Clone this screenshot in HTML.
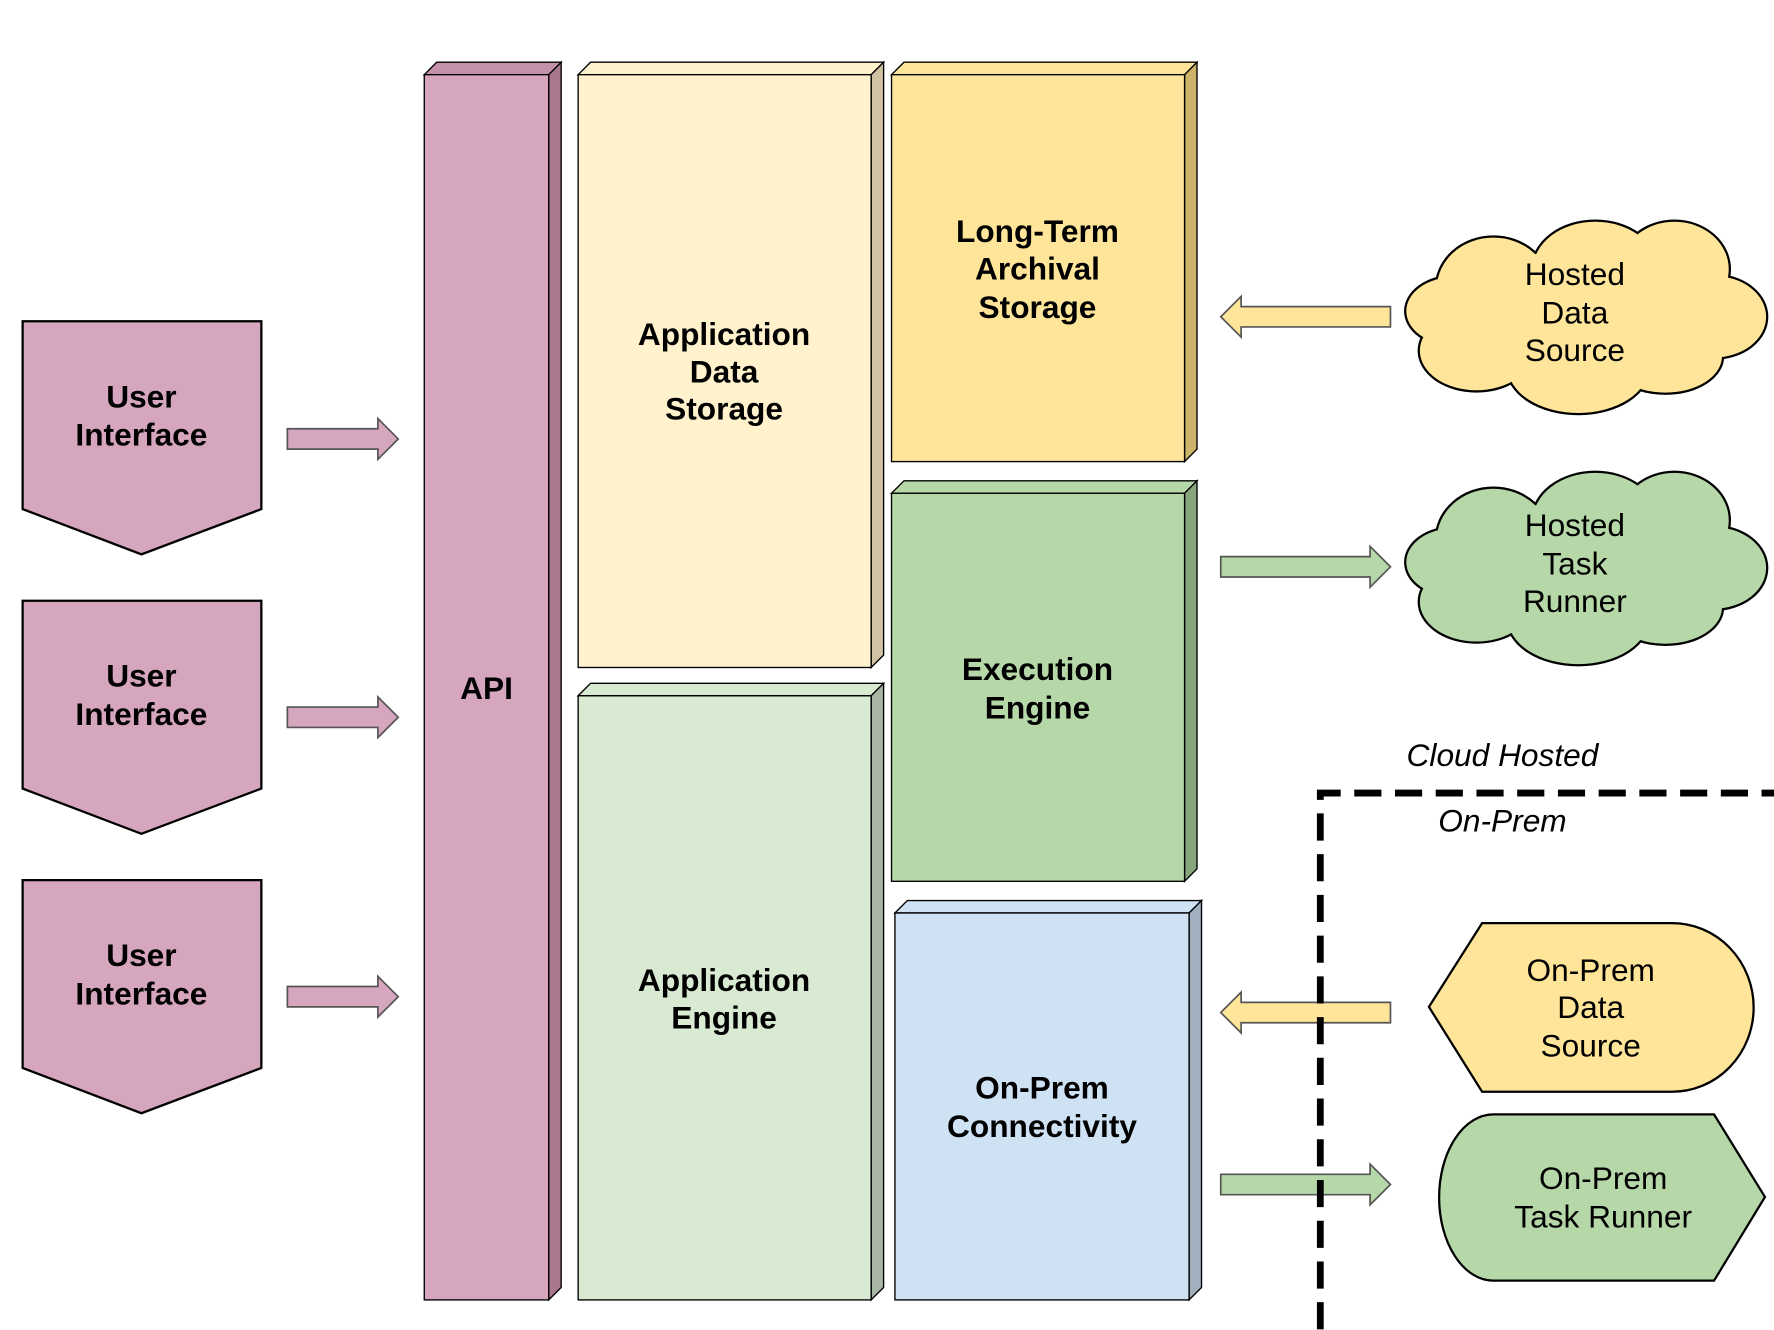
<!DOCTYPE html>
<html><head><meta charset="utf-8"><style>
html,body{margin:0;padding:0;background:#fff;}
svg{display:block;}
text{font-family:"Liberation Sans",Arial,sans-serif;font-size:28px;text-anchor:middle;fill:#000;}
.b{font-weight:bold;}
.i{font-style:italic;}
</style></head><body>
<svg width="1774" height="1330" viewBox="0 0 1568 1175.6" preserveAspectRatio="none" xmlns="http://www.w3.org/2000/svg">
<defs>
<g id="ui">
<path d="M20,0 H231 V166 L125,206 L20,166 Z" fill="#d5a6bd" stroke="#000" stroke-width="2"/>
</g>
<g id="parr"><path d="M0,-9 H80 V-18 L98,0 L80,18 V9 H0 Z" fill="#d5a6bd" stroke="#555" stroke-width="1.5"/></g>
<g id="cloudS">
<ellipse cx="1320" cy="255" rx="50" ry="45"/><ellipse cx="1410" cy="238" rx="55" ry="42"/>
<ellipse cx="1480" cy="238" rx="48" ry="42"/><ellipse cx="1515" cy="280" rx="46" ry="36"/>
<ellipse cx="1472" cy="315" rx="50" ry="32"/><ellipse cx="1395" cy="325" rx="62" ry="40"/>
<ellipse cx="1305" cy="310" rx="50" ry="35"/><ellipse cx="1285" cy="275" rx="42" ry="30"/>
<ellipse cx="1400" cy="280" rx="110" ry="60"/>
</g>
</defs>
<use href="#ui" y="284"/><use href="#ui" y="531"/><use href="#ui" y="778"/>
<text class="b" x="125" y="360">User</text><text class="b" x="125" y="394">Interface</text>
<text class="b" x="125" y="607">User</text><text class="b" x="125" y="641">Interface</text>
<text class="b" x="125" y="854">User</text><text class="b" x="125" y="888">Interface</text>
<use href="#parr" x="254" y="388"/><use href="#parr" x="254" y="634"/><use href="#parr" x="254" y="881"/>
<g stroke="#000" stroke-width="1.2">
<path d="M375,66 L386,55 H496 L485,66 Z" fill="#c391a9"/><path d="M485,66 L496,55 V1138 L485,1149 Z" fill="#a9788f"/>
<rect x="375" y="66" width="110" height="1083" fill="#d5a6bd"/>
<path d="M511,66 L522,55 H781 L770,66 Z" fill="#fff2cc"/><path d="M770,66 L781,55 V579 L770,590 Z" fill="#cfc3a3"/>
<rect x="511" y="66" width="259" height="524" fill="#fff2cc"/>
<path d="M511,615 L522,604 H781 L770,615 Z" fill="#d9ead3"/><path d="M770,615 L781,604 V1138 L770,1149 Z" fill="#a9b6a3"/>
<rect x="511" y="615" width="259" height="534" fill="#d9ead3"/>
<path d="M788,66 L799,55 H1058 L1047,66 Z" fill="#ffe599"/><path d="M1047,66 L1058,55 V397 L1047,408 Z" fill="#ccb56a"/>
<rect x="788" y="66" width="259" height="342" fill="#ffe599"/>
<path d="M788,436 L799,425 H1058 L1047,436 Z" fill="#b6d7a8"/><path d="M1047,436 L1058,425 V768 L1047,779 Z" fill="#87a67b"/>
<rect x="788" y="436" width="259" height="343" fill="#b6d7a8"/>
<path d="M791,807 L802,796 H1062 L1051,807 Z" fill="#cfe2f3"/><path d="M1051,807 L1062,796 V1138 L1051,1149 Z" fill="#a1b0bf"/>
<rect x="791" y="807" width="260" height="342" fill="#cfe2f3"/>
</g>
<text class="b" x="430" y="618">API</text>
<text class="b" x="640" y="305">Application</text><text class="b" x="640" y="338">Data</text><text class="b" x="640" y="371">Storage</text>
<text class="b" x="640" y="876">Application</text><text class="b" x="640" y="909">Engine</text>
<text class="b" x="917" y="214">Long-Term</text><text class="b" x="917" y="247">Archival</text><text class="b" x="917" y="281">Storage</text>
<text class="b" x="917" y="601">Execution</text><text class="b" x="917" y="635">Engine</text>
<text class="b" x="921" y="971">On-Prem</text><text class="b" x="921" y="1005">Connectivity</text>
<path d="M1229,271 H1097 V262 L1079,280 L1097,298 V289 H1229 Z" fill="#ffe599" stroke="#555" stroke-width="1.5"/>
<path d="M1079,492 H1211 V483 L1229,501 L1211,519 V510 H1079 Z" fill="#b6d7a8" stroke="#555" stroke-width="1.5"/>
<path d="M1229,886 H1097 V877 L1079,895 L1097,913 V904 H1229 Z" fill="#ffe599" stroke="#555" stroke-width="1.5"/>
<path d="M1079,1038 H1211 V1029 L1229,1047 L1211,1065 V1056 H1079 Z" fill="#b6d7a8" stroke="#555" stroke-width="1.5"/>
<use href="#cloudS" fill="#ffe599" stroke="#000" stroke-width="4"/>
<use href="#cloudS" fill="#ffe599"/>
<use href="#cloudS" y="222" fill="#b6d7a8" stroke="#000" stroke-width="4"/>
<use href="#cloudS" y="222" fill="#b6d7a8"/>
<text x="1392" y="252">Hosted</text><text x="1392" y="286">Data</text><text x="1392" y="319">Source</text>
<text x="1392" y="474">Hosted</text><text x="1392" y="508">Task</text><text x="1392" y="541">Runner</text>
<path d="M1167,1175 V701 H1568" fill="none" stroke="#000" stroke-width="6" stroke-dasharray="24,12"/>
<text class="i" x="1328" y="677">Cloud Hosted</text>
<text class="i" x="1328" y="735">On-Prem</text>
<path d="M1310,816 H1478 A72,74.5 0 0 1 1478,965 H1310 L1263,890 Z" fill="#ffe599" stroke="#000" stroke-width="2"/>
<text x="1406" y="867">On-Prem</text><text x="1406" y="900">Data</text><text x="1406" y="934">Source</text>
<path d="M1320,985 H1515 L1560,1058 L1515,1132 H1320 A48,73.5 0 0 1 1320,985 Z" fill="#b6d7a8" stroke="#000" stroke-width="2"/>
<text x="1417" y="1051">On-Prem</text><text x="1417" y="1085">Task Runner</text>
</svg>
</body></html>
